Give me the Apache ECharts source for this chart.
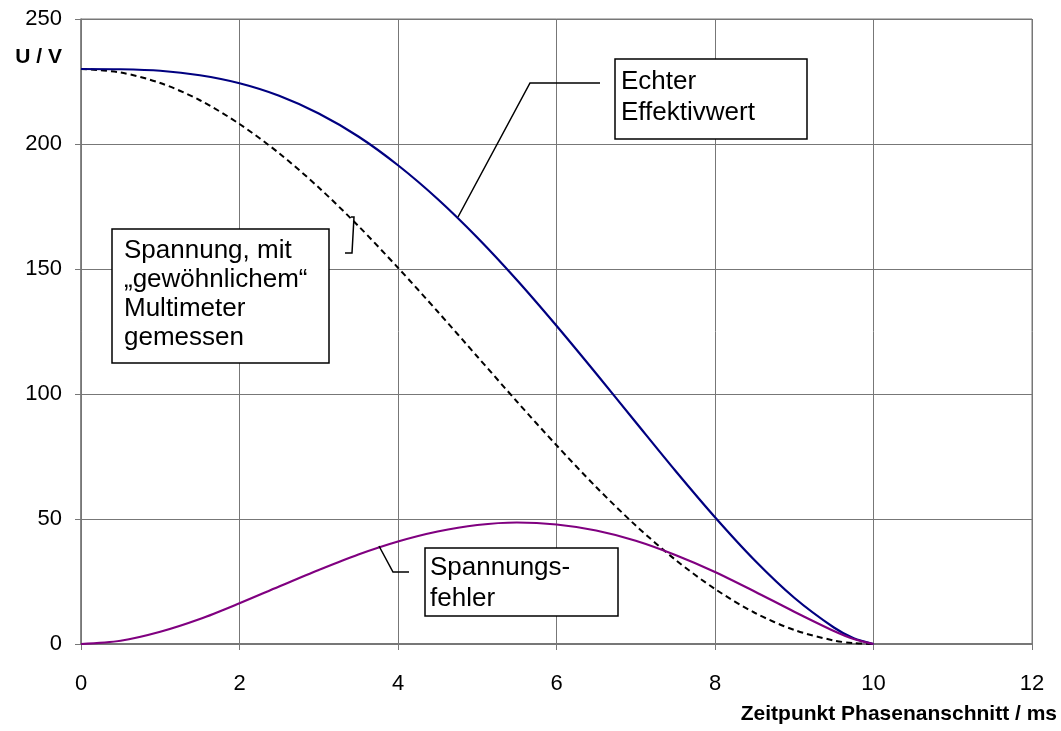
<!DOCTYPE html>
<html>
<head>
<meta charset="utf-8">
<script src="https://cdn.jsdelivr.net/npm/echarts@6/dist/echarts.min.js"></script>
<style>html,body{margin:0;padding:0;background:#fff;}#c{width:1061px;height:731px;}</style>
</head>
<body>
<div id="c"></div>
<script>
// Zeitpunkt Phasenanschnitt / ms
var zeit = [0, 0.5, 1, 1.5, 2, 2.5, 3, 3.5, 4, 4.5, 5, 5.5, 6, 6.5, 7, 7.5, 8, 8.5, 9, 9.5, 9.75, 10];
// Echter Effektivwert / V
var echt = [230, 229.9, 229.3, 227.5, 224.3, 219.3, 212.2, 203.0, 191.5, 178.0, 162.6, 145.6, 127.3, 108.2, 88.7, 69.3, 50.7, 33.5, 18.5, 6.6, 2.3, 0];
// Spannung mit gewoehnlichem Multimeter gemessen / V
var gewoehnlich = [230, 228.6, 224.4, 217.5, 208.0, 196.3, 182.6, 167.2, 150.5, 133.0, 115.0, 97.0, 79.5, 62.8, 47.4, 33.7, 22.0, 12.5, 5.6, 1.4, 0.35, 0];
// Spannungsfehler / V
var fehler = [0, 1.3, 4.9, 10.0, 16.3, 23.0, 29.6, 35.8, 41.0, 45.0, 47.6, 48.6, 47.8, 45.4, 41.3, 35.6, 28.8, 21.0, 12.9, 5.2, 2.0, 0];

var xTicks = [0, 2, 4, 6, 8, 10, 12];
var yTicks = [0, 50, 100, 150, 200, 250];

function pairs(ys) { return zeit.map(function (t, i) { return [t, ys[i]]; }); }

var FONT = "'Liberation Sans', Arial, sans-serif";
var chart = echarts.init(document.getElementById('c'));
var gridCol = '#777777';

chart.setOption({
  animation: false,
  backgroundColor: '#fff',
  grid: { left: 81, top: 19, right: 29, bottom: 87, show: true, borderColor: gridCol, borderWidth: 1, backgroundColor: 'transparent' },
  xAxis: {
    type: 'value', min: xTicks[0], max: xTicks[xTicks.length - 1], interval: 2,
    axisLine: { show: true, onZero: false, lineStyle: { color: gridCol, width: 2 } },
    axisTick: { show: true, inside: false, length: 6, lineStyle: { color: gridCol, width: 1 } },
    axisLabel: { color: '#000', fontSize: 22, fontFamily: FONT, margin: 29 },
    splitLine: { show: true, lineStyle: { color: gridCol, width: 1 } }
  },
  yAxis: {
    type: 'value', min: yTicks[0], max: yTicks[yTicks.length - 1], interval: 50,
    axisLine: { show: true, onZero: false, lineStyle: { color: gridCol, width: 1.5 } },
    axisTick: { show: true, inside: false, length: 6, lineStyle: { color: gridCol, width: 1 } },
    axisLabel: { color: '#000', fontSize: 22, fontFamily: FONT, margin: 19 },
    splitLine: { show: true, lineStyle: { color: gridCol, width: 1 } }
  },
  series: [
    { name: 'Echter Effektivwert', type: 'line', data: pairs(echt), showSymbol: false, symbol: 'none', smooth: 0.3, lineStyle: { color: '#000080', width: 2.2 }, z: 3 },
    { name: 'Spannung, mit gewöhnlichem Multimeter gemessen', type: 'line', data: pairs(gewoehnlich), showSymbol: false, symbol: 'none', smooth: 0.3, lineStyle: { color: '#000', width: 2, type: [6, 4] }, z: 2 },
    { name: 'Spannungsfehler', type: 'line', data: pairs(fehler), showSymbol: false, symbol: 'none', smooth: 0.3, lineStyle: { color: '#800080', width: 2.2 }, z: 4 }
  ],
  graphic: [
    { type: 'text', x: 62, y: 57, style: { text: 'U / V', font: 'bold 21px ' + FONT, fill: '#000', align: 'right', verticalAlign: 'middle' } },
    { type: 'text', x: 1057, y: 714, style: { text: 'Zeitpunkt Phasenanschnitt / ms', font: 'bold 21px ' + FONT, fill: '#000', align: 'right', verticalAlign: 'middle' } },

    // Echter Effektivwert
    { type: 'polyline', shape: { points: [[600, 83], [530, 83], [458, 217]] }, style: { stroke: '#000', lineWidth: 1.5, fill: null }, z: 10 },
    { type: 'rect', shape: { x: 615, y: 59, width: 192, height: 80 }, style: { fill: '#fff', stroke: '#000', lineWidth: 1.5 }, z: 10 },
    { type: 'text', x: 621, y: 66, style: { text: 'Echter\nEffektivwert', font: '26px ' + FONT, lineHeight: 31, fill: '#000' }, z: 11 },

    // Spannung, mit gewoehnlichem Multimeter gemessen
    { type: 'polyline', shape: { points: [[345, 253], [352, 253], [354, 217], [351, 217]] }, style: { stroke: '#000', lineWidth: 1.5, fill: null }, z: 10 },
    { type: 'rect', shape: { x: 112, y: 229, width: 217, height: 134 }, style: { fill: '#fff', stroke: '#000', lineWidth: 1.5 }, z: 10 },
    { type: 'text', x: 124, y: 236, style: { text: 'Spannung, mit\n\u201Egewöhnlichem\u201C\nMultimeter\ngemessen', font: '26px ' + FONT, lineHeight: 29, fill: '#000' }, z: 11 },

    // Spannungsfehler
    { type: 'polyline', shape: { points: [[409, 572], [393, 572], [379, 546]] }, style: { stroke: '#000', lineWidth: 1.5, fill: null }, z: 10 },
    { type: 'rect', shape: { x: 425, y: 548, width: 193, height: 68 }, style: { fill: '#fff', stroke: '#000', lineWidth: 1.5 }, z: 10 },
    { type: 'text', x: 430, y: 552, style: { text: 'Spannungs-\nfehler', font: '26px ' + FONT, lineHeight: 31, fill: '#000' }, z: 11 }
  ]
});
</script>
</body>
</html>
